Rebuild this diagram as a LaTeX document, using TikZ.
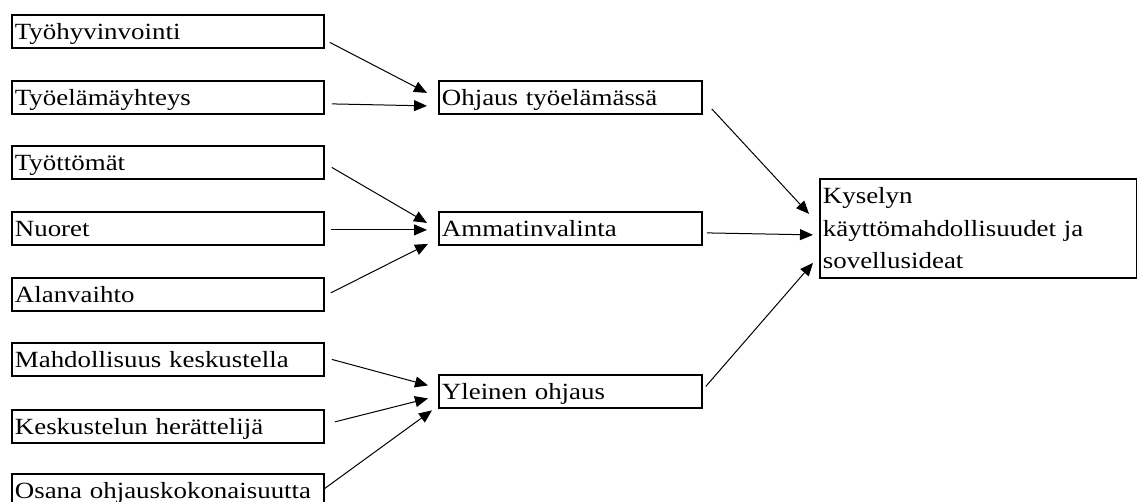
\documentclass[tikz,border=0pt]{standalone}
\usepackage{fontspec}
\setmainfont{Liberation Serif}[FakeStretch=1.16]
\usetikzlibrary{arrows.meta,calc}
\begin{document}
\begin{tikzpicture}[x=0.5pt,y=-0.5pt,
  box/.style={draw, line width=0.9pt, anchor=north west, inner xsep=1.5pt, inner ysep=0pt,
    align=left, font=\fontsize{11.6}{16.25}\selectfont, text height=12.5pt, text depth=4pt},
  lbox/.style={box, text width=153pt},
  mbox/.style={box, text width=128.5pt},
  rbox/.style={draw, line width=0.9pt, anchor=north west, inner xsep=1.5pt, inner ysep=0pt,
    align=left, font=\fontsize{11.6}{16.25}\selectfont, text width=155.5pt, minimum height=49.5pt},
  arr/.style={line width=0.5pt, -{Triangle[length=6.5pt,width=5.5pt]}}]
\useasboundingbox (0,0) rectangle (1137,502);
% left column
\node[lbox] (t1) at (11,14) {Työhyvinvointi};
\node[lbox] (t2) at (11,80) {Työelämäyhteys};
\node[lbox] (t3) at (11,145) {Työttömät};
\node[lbox] (t4) at (11,211) {Nuoret};
\node[lbox] (t5) at (11,277) {Alanvaihto};
\node[lbox] (t6) at (11,342) {Mahdollisuus keskustella};
\node[lbox] (t7) at (11,409) {Keskustelun herättelijä};
\node[lbox] (t8) at (11,473) {Osana ohjauskokonaisuutta};
% middle column
\node[mbox] (m1) at (438,80) {Ohjaus työelämässä};
\node[mbox] (m2) at (438,211) {Ammatinvalinta};
\node[mbox] (m3) at (438,374) {Yleinen ohjaus};
% right
\node[rbox] (r) at (819,178) {Kyselyn\\käyttömahdollisuudet ja\\sovellusideat};
% arrows
\draw[arr] ($(t1.east)+(5,11)$) -- ($(m1.west)+(-11,-4.5)$);
\draw[arr] ($(t2.east)+(7,6.5)$) -- ($(m1.west)+(-11,8.5)$);
\draw[arr] ($(t3.east)+(7,5)$) -- ($(m2.west)+(-11,-5.5)$);
\draw[arr] ($(t4.east)+(6,1.5)$) -- ($(m2.west)+(-11,1.5)$);
\draw[arr] ($(t5.east)+(6,-1.5)$) -- ($(m2.west)+(-10,15.5)$);
\draw[arr] ($(t6.east)+(7,0)$) -- ($(m3.west)+(-10,-6)$);
\draw[arr] ($(t7.east)+(10,-4.5)$) -- ($(m3.west)+(-10,7)$);
\draw[arr] ($(t8.east)+(0,-2)$) -- ($(m3.west)+(-6,19)$);
\draw[arr] ($(m1.east)+(9,11.5)$) -- ($(r.west)+(-10,-14.5)$);
\draw[arr] ($(m2.east)+(4,4.5)$) -- ($(r.west)+(-6,6.5)$);
\draw[arr] ($(m3.east)+(3,-5)$) -- ($(r.west)+(-6,34.5)$);
\end{tikzpicture}
\end{document}
